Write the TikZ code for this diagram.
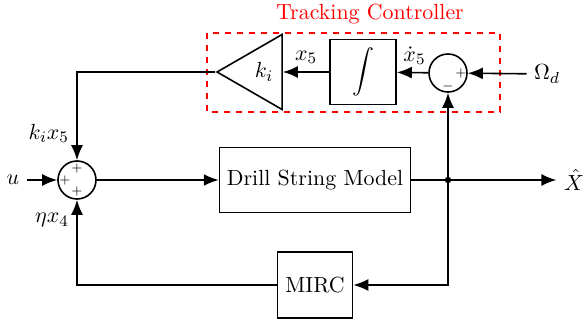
\documentclass[tikz,border=0pt,11pt]{standalone}
\usepackage{amsmath}
\usepackage{tikz}
\usetikzlibrary{shapes,arrows.meta,positioning,calc}

\begin{document}
\begin{tikzpicture}[
    x=0.5pt, y=-0.5pt,
    block/.style={rectangle, draw, thick, align=center},
    sumnode/.style={circle, draw, thick, minimum size=19pt, inner sep=0pt},
    gain/.style={isosceles triangle, isosceles triangle stretches, shape border rotate=180, draw, thick, minimum width=37.5pt, minimum height=32.5pt, inner sep=0pt},
    arrow/.style={-{Latex[length=7.5pt,width=6pt]}, thick},
    sgn/.style={font=\tiny, inner sep=0pt}
]
    \useasboundingbox (0,0) rectangle (584,321);

    % main loop
    \node[sumnode] (sum) at (77,180) {};
    \node[block, minimum width=95pt, minimum height=32.5pt] (plant) at (315,180) {Drill String Model};
    \node[block, minimum width=37.5pt, minimum height=33pt] (mirc) at (315,285) {MIRC};
    \node (u) at (13,180) {$u$};
    \node (xhat) at (574,180) {$\hat{X}$};
    \coordinate (split) at (448,180);
    \fill (split) circle (1.6pt);

    % tracking controller
    \node[sumnode] (err) at (448,73) {};
    \node[block, minimum width=33pt, minimum height=32.5pt] (int) at (363,72) {$\displaystyle\int$};
    \node[gain, anchor=apex] (ki) at (215,72) {};
    \node at (264,72) {$k_i$};
    \node (omega) at (547,74) {$\Omega_d$};
    \draw[red, dashed, thick] (207,33) rectangle (500,112);
    \node[red] (title) at (370,14) {Tracking Controller};

    % signs
    \node[sgn] at ($(sum.center)+(0,-12)$) {$+$};
    \node[sgn] at ($(sum.center)+(-12,0)$) {$+$};
    \node[sgn] at ($(sum.center)+(0,11)$) {$+$};
    \node[sgn] at ($(err.center)+(13,0)$) {$+$};
    \node[sgn] at ($(err.center)+(0,13)$) {$-$};

    \draw[arrow] (u) -- (sum);
    \draw[arrow] (sum) -- (plant);
    \draw[arrow] (plant) -- (xhat);
    \draw[arrow] (split) |- (mirc);
    \draw[arrow] (mirc) -| node[pos=0.88, left] {$\eta x_4$} (sum);
    \draw[arrow] (split) -- (err);
    \draw[arrow] (omega) -- (err);
    \draw[arrow] (err) -- node[above, xshift=1pt] {$\dot{x}_5$} (int);
    \draw[arrow] (int) -- node[above] {$x_5$} (ki.east);
    \draw[arrow] (ki.apex) -| node[pos=0.85, left] {$k_i x_5$} (sum);
\end{tikzpicture}
\end{document}
